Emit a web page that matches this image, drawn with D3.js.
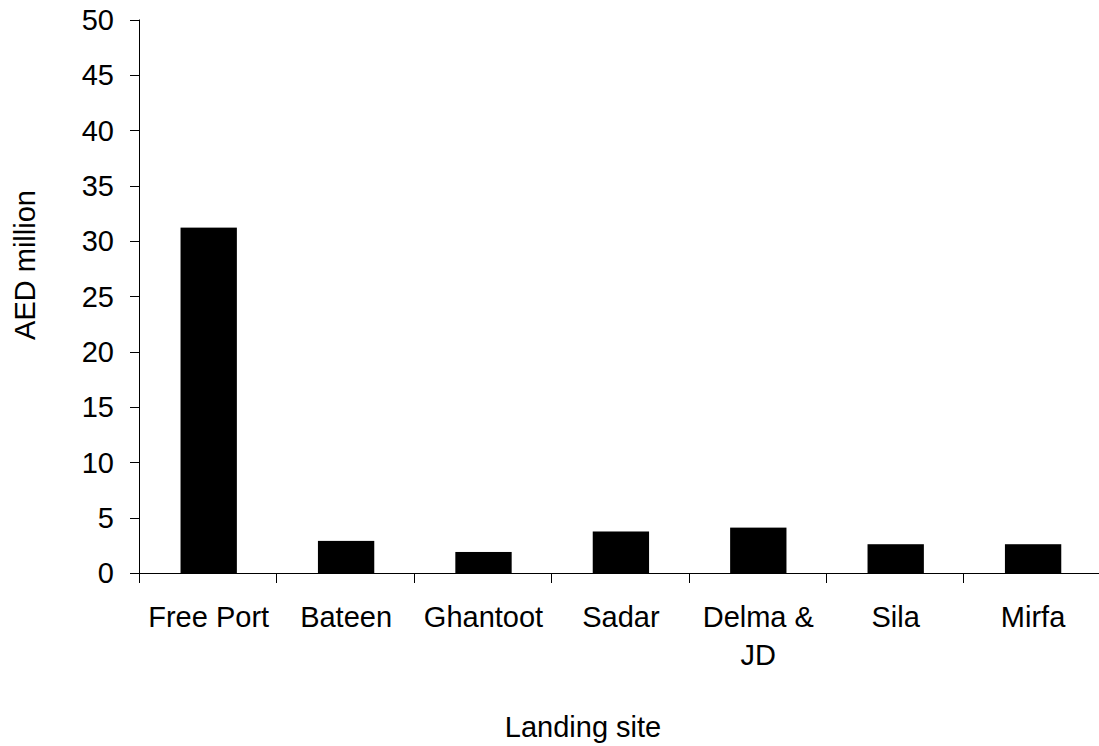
<!DOCTYPE html>
<html lang="en">
  <head>
    <meta charset="UTF-8" />
    <title>AED million by landing site</title>
    <script src="https://cdn.jsdelivr.net/npm/d3@7/dist/d3.min.js"></script>
    <style>
      html,
      body {
        margin: 0;
        padding: 0;
        background: #fff;
      }
      text {
        font-family: 'Liberation Sans', Arial, sans-serif;
        fill: #000;
      }
    </style>
  </head>
  <body>
    <script>
      const sites = ['Free Port', 'Bateen', 'Ghantoot', 'Sadar', 'Delma & JD', 'Sila', 'Mirfa'];
      const siteLines = [['Free Port'], ['Bateen'], ['Ghantoot'], ['Sadar'], ['Delma &', 'JD'], ['Sila'], ['Mirfa']];
      const values = [31.2, 2.9, 1.9, 3.75, 4.1, 2.6, 2.6];
      const yTicks = [0, 5, 10, 15, 20, 25, 30, 35, 40, 45, 50];

      const width = 1099,
        height = 746;
      const margin = { left: 140, top: 19.5, bottom: 173 };
      const plotBottom = height - margin.bottom;
      const fontSize = 29;

      const svg = d3
        .select('body')
        .append('svg')
        .attr('width', width)
        .attr('height', height);

      const x = d3
        .scaleBand()
        .domain(sites)
        .range([margin.left, margin.left + 137.4 * sites.length]);

      const y = d3.scaleLinear().domain([0, 50]).range([plotBottom, margin.top]);

      const barW = x.bandwidth() * 0.41;

      svg
        .selectAll('rect.bar')
        .data(values)
        .join('rect')
        .attr('class', 'bar')
        .attr('x', (d, i) => x(sites[i]) + x.bandwidth() / 2 - barW / 2)
        .attr('y', d => y(d))
        .attr('width', barW)
        .attr('height', d => y(0) - y(d))
        .attr('fill', '#000');

      // y axis
      const yAxis = svg.append('g');
      yAxis
        .append('line')
        .attr('x1', margin.left - 0.5)
        .attr('x2', margin.left - 0.5)
        .attr('y1', y(50))
        .attr('y2', y(0))
        .attr('stroke', '#000');
      yAxis
        .selectAll('line.tick')
        .data(yTicks)
        .join('line')
        .attr('class', 'tick')
        .attr('x1', margin.left - 10)
        .attr('x2', margin.left)
        .attr('y1', d => Math.round(y(d)) + 0.5)
        .attr('y2', d => Math.round(y(d)) + 0.5)
        .attr('stroke', '#000');
      yAxis
        .selectAll('text')
        .data(yTicks)
        .join('text')
        .attr('x', 114)
        .attr('y', d => y(d))
        .attr('dy', '0.36em')
        .attr('text-anchor', 'end')
        .attr('font-size', fontSize)
        .text(d => d);

      // x axis
      const xAxis = svg.append('g');
      xAxis
        .append('line')
        .attr('x1', margin.left)
        .attr('x2', x.range()[1])
        .attr('y1', Math.round(y(0)) + 0.5)
        .attr('y2', Math.round(y(0)) + 0.5)
        .attr('stroke', '#000');
      const edges = sites.map(s => x(s)).concat([x.range()[1]]);
      xAxis
        .selectAll('line.tick')
        .data(edges)
        .join('line')
        .attr('class', 'tick')
        .attr('x1', d => Math.round(d) - 0.5)
        .attr('x2', d => Math.round(d) - 0.5)
        .attr('y1', y(0))
        .attr('y2', y(0) + 10)
        .attr('stroke', '#000');
      xAxis
        .selectAll('text')
        .data(siteLines)
        .join('text')
        .attr('x', (d, i) => x(sites[i]) + x.bandwidth() / 2)
        .attr('y', 627)
        .attr('text-anchor', 'middle')
        .attr('font-size', fontSize)
        .each(function (d) {
          d3.select(this)
            .selectAll('tspan')
            .data(d)
            .join('tspan')
            .attr('x', d3.select(this).attr('x'))
            .attr('dy', (t, j) => (j === 0 ? 0 : 37.5))
            .text(t => t);
        });

      svg
        .append('text')
        .attr('x', 583)
        .attr('y', 737)
        .attr('text-anchor', 'middle')
        .attr('font-size', fontSize)
        .text('Landing site');

      svg
        .append('text')
        .attr('transform', `translate(35, 265) rotate(-90)`)
        .attr('text-anchor', 'middle')
        .attr('font-size', fontSize)
        .text('AED million');
    </script>
  </body>
</html>
